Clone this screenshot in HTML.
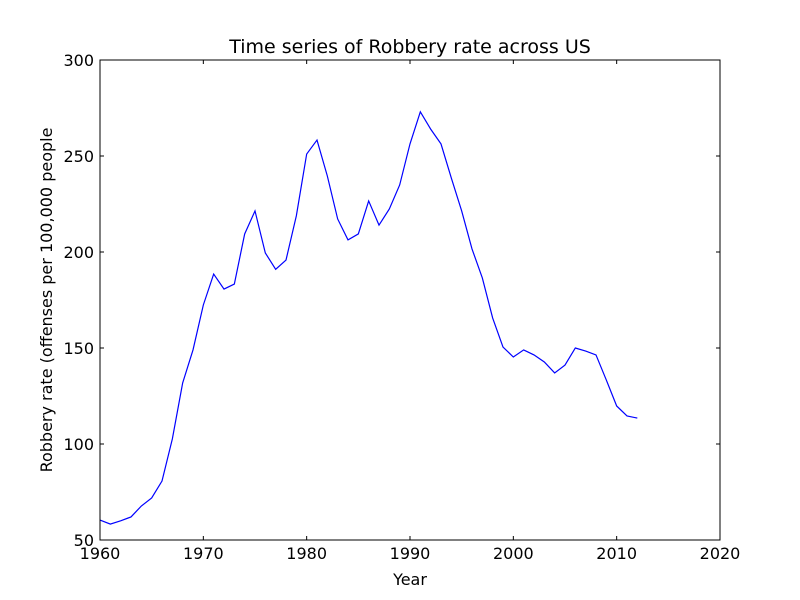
<!DOCTYPE html>
<html><head><meta charset="utf-8"><style>
html,body{margin:0;padding:0;background:#fff;}
svg{display:block;font-family:"DejaVu Sans","Liberation Sans",sans-serif;}
</style></head><body>
<svg id="chart" width="800" height="600"></svg>
<script>
const years = [1960,1961,1962,1963,1964,1965,1966,1967,1968,1969,1970,1971,1972,1973,1974,1975,1976,1977,1978,1979,1980,1981,1982,1983,1984,1985,1986,1987,1988,1989,1990,1991,1992,1993,1994,1995,1996,1997,1998,1999,2000,2001,2002,2003,2004,2005,2006,2007,2008,2009,2010,2011,2012];
const robberyRate = [60.4,58.3,60,62,67.7,71.9,80.7,102.6,131.8,149,172.4,188.5,180.7,183.3,209.4,221.4,199.5,191,195.8,218.8,251,258.3,239.6,217.2,206.3,209.4,226.6,214,222.4,234.9,256.3,273,264,256.3,238.5,221.4,201.6,186.5,165.6,150.5,145.3,149,146.4,142.7,137,141.1,150,148.4,146.4,133.3,119.8,114.6,113.5];
const xTicks = [1960,1970,1980,1990,2000,2010,2020];
const yTicks = [50,100,150,200,250,300];

const NS="http://www.w3.org/2000/svg";
const svg=document.getElementById('chart');
const L=100,R=720,T=60,B=540;
const xMin=1960,xMax=2020,yMin=50,yMax=300;
function xs(v){return L+(v-xMin)/(xMax-xMin)*(R-L);}
function ys(v){return B-(v-yMin)/(yMax-yMin)*(B-T);}
function mk(tag,attrs,txt){const e=document.createElementNS(NS,tag);for(const k in attrs)e.setAttribute(k,attrs[k]);if(txt!==undefined)e.textContent=txt;svg.appendChild(e);return e;}

let d='';
years.forEach((y,i)=>{d+=(i?'L':'M')+xs(y).toFixed(2)+' '+ys(robberyRate[i]).toFixed(2);});
const line=mk('path',{d:d,fill:'none',stroke:'#0000ff','stroke-width':1.2});



const frame=mk('rect',{x:L,y:T,width:R-L,height:B-T,fill:'none',stroke:'#000','stroke-width':1});



xTicks.forEach(t=>{
  const x=xs(t);
  mk('line',{x1:x,y1:B,x2:x,y2:B-4,stroke:'#000'});
  mk('line',{x1:x,y1:T,x2:x,y2:T+4,stroke:'#000'});
  const lb=mk('text',{x:x,y:B+19,'text-anchor':'middle','font-size':16},String(t));
  
  
});
yTicks.forEach(t=>{
  const y=ys(t);
  mk('line',{x1:L,y1:y,x2:L+4,y2:y,stroke:'#000'});
  mk('line',{x1:R,y1:y,x2:R-4,y2:y,stroke:'#000'});
  const lb=mk('text',{x:L-6,y:y+6,'text-anchor':'end','font-size':16},String(t));
  
  
});
const title=mk('text',{x:410,y:53,'text-anchor':'middle','font-size':19},'Time series of Robbery rate across US');


const xt=mk('text',{x:410,y:585,'text-anchor':'middle','font-size':16},'Year');


const yt=mk('text',{x:0,y:0,'text-anchor':'middle','font-size':16,transform:'translate(52,300) rotate(-90)'},'Robbery rate (offenses per 100,000 people');


</script>
</body></html>
